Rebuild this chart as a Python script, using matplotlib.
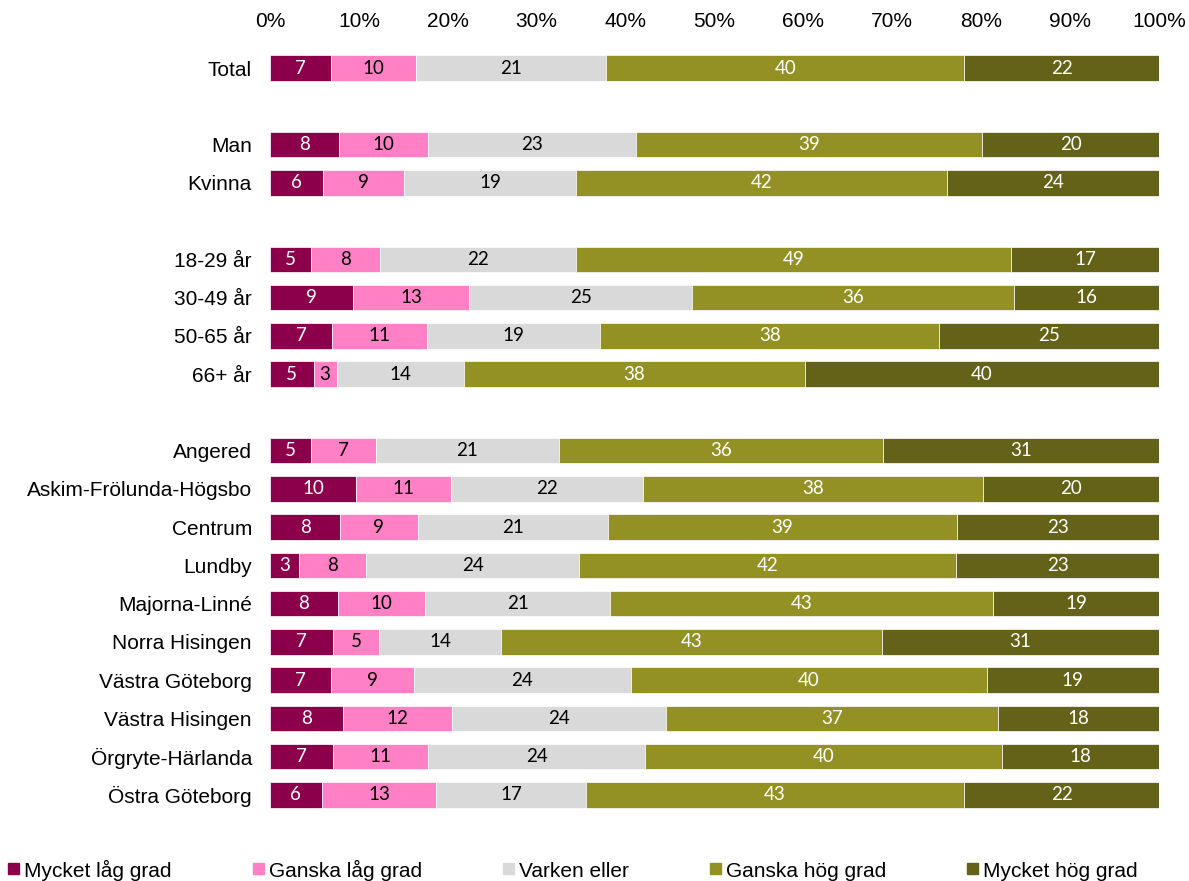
import numpy as np
import matplotlib.pyplot as plt
from matplotlib.patches import Rectangle

plt.rcParams["font.family"] = ["Liberation Sans", "DejaVu Sans"]

# Row groups, drawn with an empty row between groups
groups = [
    ["Total"],
    ["Man", "Kvinna"],
    ["18-29 år", "30-49 år", "50-65 år", "66+ år"],
    ["Angered", "Askim-Frölunda-Högsbo", "Centrum", "Lundby", "Majorna-Linné",
     "Norra Hisingen", "Västra Göteborg", "Västra Hisingen", "Örgryte-Härlanda",
     "Östra Göteborg"],
]

series_names = ["Mycket låg grad", "Ganska låg grad", "Varken eller",
                "Ganska hög grad", "Mycket hög grad"]

# Shares in percent, one value per row in the order above
mycket_lag = [6.9, 7.8, 6.0, 4.6, 9.3, 7.0, 4.9, 4.6, 9.7, 7.9, 3.3, 7.6, 7.1, 6.9, 8.2, 7.1, 5.8]
ganska_lag = [9.5, 10.0, 9.1, 7.8, 13.1, 10.7, 2.6, 7.3, 10.7, 8.7, 7.5, 9.8, 5.2, 9.3, 12.3, 10.7, 12.9]
varken = [21.4, 23.4, 19.3, 22.0, 25.1, 19.4, 14.3, 20.6, 21.6, 21.4, 24.0, 20.9, 13.7, 24.4, 24.0, 24.4, 16.8]
ganska_hog = [40.3, 38.9, 41.7, 49.0, 36.2, 38.2, 38.4, 36.4, 38.2, 39.3, 42.4, 43.0, 42.8, 40.0, 37.4, 40.1, 42.6]
mycket_hog = [21.9, 19.9, 23.9, 16.6, 16.3, 24.7, 39.8, 31.1, 19.8, 22.7, 22.8, 18.7, 31.2, 19.4, 18.1, 17.7, 21.9]

colors = ["#8c004b", "#ff80c4", "#d9d9d9", "#939123", "#646118"]
text_colors = ["white", "black", "black", "white", "white"]

labels = []
positions = []
row = 0
for group in groups:
    for name in group:
        labels.append(name)
        positions.append(row)
        row += 1
    row += 1
positions = np.array(positions)

fig = plt.figure(figsize=(11.89, 8.81), dpi=100)
ax = fig.add_axes([270 / 1189, 1 - 814 / 881, 889 / 1189, 765 / 881])

data = [mycket_lag, ganska_lag, varken, ganska_hog, mycket_hog]
left = np.zeros(len(labels))
for values, color, tcolor in zip(data, colors, text_colors):
    values = np.array(values)
    ax.barh(positions, values, left=left, height=0.67, color=color,
            edgecolor="white", linewidth=0.5)
    for y, x0, v in zip(positions, left, values):
        ax.text(x0 + v / 2, y, f"{int(v + 0.5)}", ha="center", va="center",
                color=tcolor, fontsize=13.5, family=["Lato", "DejaVu Sans"])
    left += values

ax.set_xlim(0, 100)
ax.set_ylim(row - 1.5, -0.5)
ax.xaxis.tick_top()
ax.set_xticks(np.arange(0, 101, 10))
ax.set_xticklabels([f"{t}%" for t in range(0, 101, 10)], fontsize=15)
ax.set_yticks(positions)
ax.set_yticklabels(labels, fontsize=15)
ax.tick_params(axis="x", length=0, pad=13)
ax.tick_params(axis="y", length=0, pad=13)
for spine in ax.spines.values():
    spine.set_visible(False)

# Legend row along the bottom
legend_x = [8, 253, 503, 710, 967]
for x, name, color in zip(legend_x, series_names, colors):
    fig.add_artist(Rectangle((x / 1189, 1 - 874 / 881), 11 / 1189, 11 / 881,
                             transform=fig.transFigure, color=color))
    fig.text((x + 16) / 1189, 1 - 877 / 881, name, fontsize=15,
             ha="left", va="baseline")

fig.savefig("out.png", dpi=100)
